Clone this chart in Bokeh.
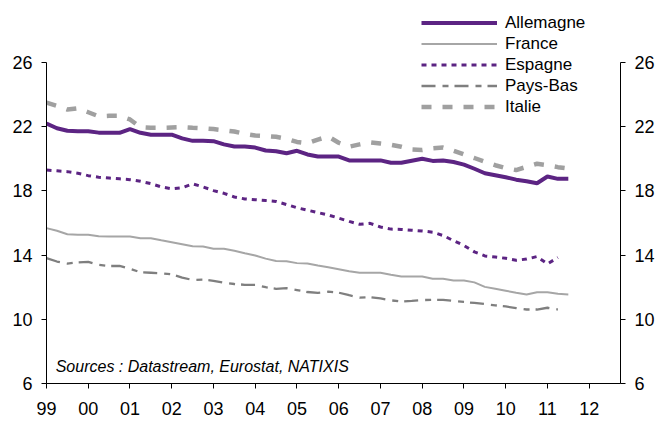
from bokeh.plotting import figure
from bokeh.models import Range1d, LinearAxis, FixedTicker, Legend, LegendItem, Label
from bokeh.embed import file_html
from bokeh.resources import INLINE

# ---- data (quarterly, from 1999 Q1) ----
start_year = 1999
quarter_step = 0.25

allemagne = [22.2, 21.9, 21.75, 21.72, 21.72, 21.63, 21.62, 21.62, 21.85, 21.62,
             21.5, 21.5, 21.5, 21.27, 21.12, 21.12, 21.1, 20.9, 20.77, 20.77,
             20.7, 20.52, 20.47, 20.35, 20.5, 20.27, 20.14, 20.14, 20.14, 19.9,
             19.9, 19.9, 19.9, 19.75, 19.75, 19.88, 20.0, 19.87, 19.9, 19.8,
             19.64, 19.38, 19.1, 18.98, 18.85, 18.7, 18.6, 18.48, 18.9, 18.75,
             18.75]
france = [15.68, 15.52, 15.3, 15.27, 15.27, 15.17, 15.16, 15.16, 15.16, 15.05,
          15.05, 14.92, 14.8, 14.68, 14.55, 14.53, 14.4, 14.39, 14.27, 14.12,
          13.98, 13.78, 13.63, 13.62, 13.5, 13.47, 13.35, 13.24, 13.12, 13.0,
          12.9, 12.9, 12.9, 12.78, 12.67, 12.67, 12.67, 12.53, 12.52, 12.42,
          12.42, 12.3, 12.02, 11.9, 11.78, 11.66, 11.55, 11.69, 11.69, 11.59,
          11.55]
espagne = [19.3, 19.25, 19.2, 19.1, 18.95, 18.85, 18.8, 18.75, 18.7, 18.6,
           18.45, 18.25, 18.13, 18.2, 18.44, 18.25, 18.02, 17.85, 17.62, 17.5,
           17.45, 17.4, 17.34, 17.15, 16.95, 16.8, 16.65, 16.5, 16.3, 16.1,
           15.92, 15.98, 15.75, 15.62, 15.6, 15.55, 15.5, 15.43, 15.22, 14.9,
           14.6, 14.2, 13.95, 13.88, 13.8, 13.68, 13.75, 13.91, 13.45, 13.85]
pays_bas = [13.81, 13.6, 13.47, 13.55, 13.58, 13.4, 13.32, 13.33, 13.15, 12.93,
            12.9, 12.87, 12.8, 12.6, 12.45, 12.47, 12.4, 12.28, 12.2, 12.15,
            12.15, 12.0, 11.9, 11.94, 11.82, 11.7, 11.64, 11.72, 11.66, 11.5,
            11.35, 11.38, 11.3, 11.18, 11.11, 11.15, 11.2, 11.21, 11.21, 11.15,
            11.08, 11.02, 10.95, 10.87, 10.8, 10.7, 10.61, 10.61, 10.72, 10.61]
italie = [23.5, 23.3, 23.07, 23.15, 22.9, 22.65, 22.68, 22.68, 22.45, 21.97,
          21.93, 21.93, 21.95, 21.97, 21.93, 21.9, 21.85, 21.78, 21.7, 21.55,
          21.45, 21.42, 21.37, 21.25, 21.05, 20.97, 21.2, 21.39, 21.0, 20.75,
          20.9, 21.03, 20.95, 20.87, 20.75, 20.58, 20.55, 20.65, 20.7, 20.5,
          20.27, 20.05, 19.82, 19.6, 19.42, 19.3, 19.5, 19.69, 19.6, 19.48,
          19.4]

series_names = ["Allemagne", "France", "Espagne", "Pays-Bas", "Italie"]
x_ticks = list(range(1999, 2013))
x_tick_labels = ["99", "00", "01", "02", "03", "04", "05", "06", "07", "08",
                 "09", "10", "11", "12"]
y_ticks = [6, 10, 14, 18, 22, 26]
y_axis_bounds = (6, 26)
source_note = "Sources : Datastream, Eurostat, NATIXIS"


def times(vals):
    return [start_year + quarter_step * i for i in range(len(vals))]


FONT = "Liberation Sans"
PURPLE = "#5c2483"

p = figure(width=664, height=424, output_backend="svg", toolbar_location=None,
           x_range=Range1d(1999, 2012.75), y_range=Range1d(6, 29.24),
           min_border_left=46, min_border_right=44, min_border_top=10,
           min_border_bottom=41)
p.outline_line_color = None
p.xgrid.visible = False
p.ygrid.visible = False
p.background_fill_color = "white"
p.border_fill_color = "white"

r_it = p.line(times(italie), italie, line_color="#a0a0a0", line_width=4.5,
              line_dash="10 11")
r_pb = p.line(times(pays_bas), pays_bas, line_color="#7f7f7f", line_width=2.3,
              line_dash="14 7 6 6")
r_es = p.line(times(espagne), espagne, line_color=PURPLE, line_width=3,
              line_dash="5 5")
r_fr = p.line(times(france), france, line_color="#a6a6a6", line_width=2)
r_de = p.line(times(allemagne), allemagne, line_color=PURPLE, line_width=4)


def style_axis(ax):
    ax.axis_line_color = "black"
    ax.axis_line_width = 1
    ax.major_tick_in = 0
    ax.major_tick_out = 5
    ax.minor_tick_line_color = None
    ax.major_label_text_font = FONT
    ax.major_label_text_font_size = "18px"
    ax.major_label_text_color = "black"


yax = p.yaxis[0]
yax.ticker = FixedTicker(ticks=y_ticks)
yax.bounds = y_axis_bounds
yax.major_label_standoff = 9
style_axis(yax)

right = LinearAxis(ticker=FixedTicker(ticks=y_ticks), bounds=y_axis_bounds)
right.major_label_standoff = 9
style_axis(right)
p.add_layout(right, "right")

xax = p.xaxis[0]
xax.ticker = FixedTicker(ticks=x_ticks)
xax.major_label_overrides = {t: l for t, l in zip(x_ticks, x_tick_labels)}
xax.major_label_standoff = 13
style_axis(xax)

legend = Legend(items=[LegendItem(label=n, renderers=[r]) for n, r in
                       zip(series_names, [r_de, r_fr, r_es, r_pb, r_it])],
                location=(375, 266), orientation="vertical",
                padding=0, margin=0, spacing=0,
                glyph_width=76, glyph_height=21, label_height=21,
                label_standoff=8, label_text_font=FONT,
                label_text_font_size="17px", label_text_color="black",
                border_line_color=None, background_fill_alpha=0)
p.add_layout(legend, "center")

note = Label(x=1999.22, y=7.05, text=source_note, text_font=FONT,
             text_font_style="italic", text_font_size="16px",
             text_baseline="middle", text_color="black")
p.add_layout(note)

open("out.html", "w").write(file_html(p, INLINE))
